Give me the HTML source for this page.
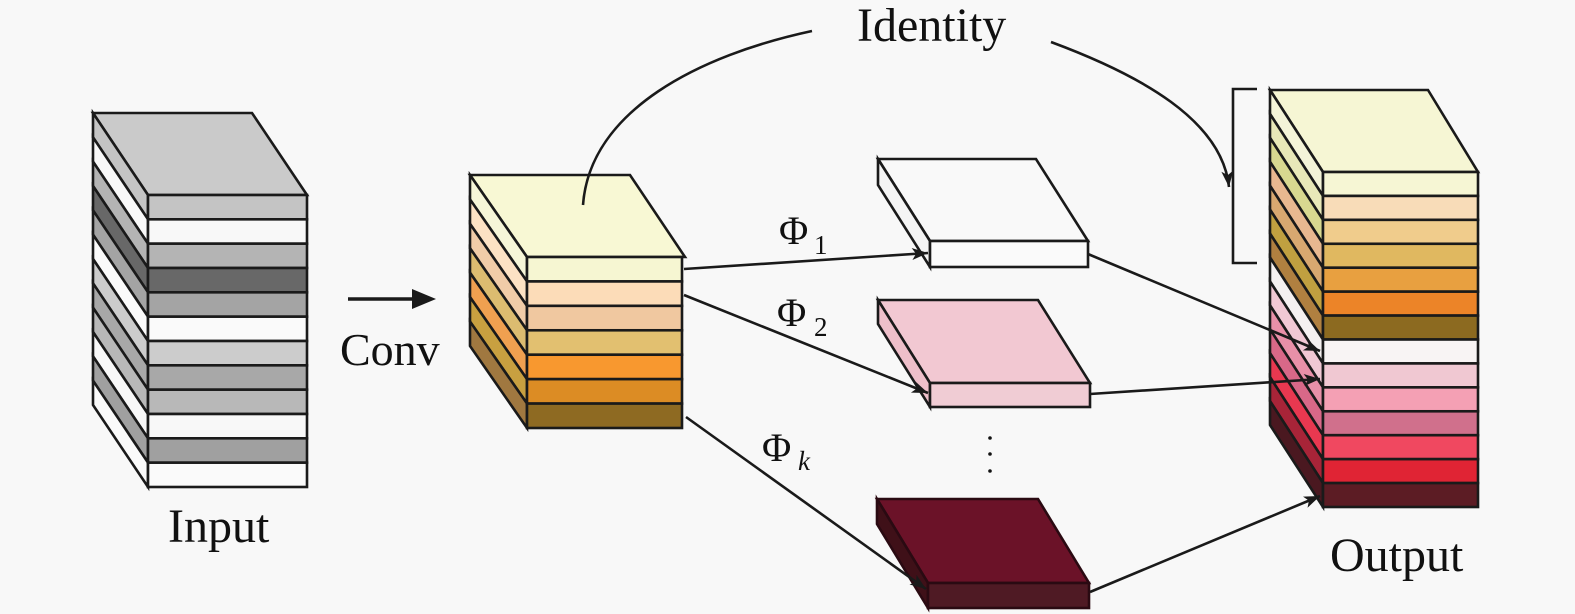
<!DOCTYPE html>
<html><head><meta charset="utf-8">
<style>
html,body{margin:0;padding:0;background:#f8f8f8;}
svg{display:block;}
text{font-family:"Liberation Serif",serif;fill:#111;}
</style></head>
<body>
<svg width="1575" height="614" viewBox="0 0 1575 614" xmlns="http://www.w3.org/2000/svg">
<defs>
<marker id="ah" markerUnits="userSpaceOnUse" markerWidth="18" markerHeight="14" refX="16" refY="6" orient="auto">
<path d="M0,0 L16,6 L0,12 L4,6 z" fill="#1a1a1a"/>
</marker>
</defs>
<rect width="1575" height="614" fill="#f8f8f8"/>

<!-- INPUT STACK -->
<g transform="translate(93,113)" stroke="#1a1a1a" stroke-width="2.6">
 <polygon points="0,0 159,0 214,82 55,82" fill="#cacaca"/>
 <g transform="matrix(1,1.4909,0,1,0,0)">
  <rect x="0" y="0" width="55" height="24.33" fill="#c4c4c4" vector-effect="non-scaling-stroke"/>
  <rect x="0" y="24.33" width="55" height="24.33" fill="#f8f8f8" vector-effect="non-scaling-stroke"/>
  <rect x="0" y="48.67" width="55" height="24.33" fill="#b4b4b4" vector-effect="non-scaling-stroke"/>
  <rect x="0" y="73" width="55" height="24.33" fill="#686868" vector-effect="non-scaling-stroke"/>
  <rect x="0" y="97.33" width="55" height="24.33" fill="#a4a4a4" vector-effect="non-scaling-stroke"/>
  <rect x="0" y="121.67" width="55" height="24.33" fill="#fafafa" vector-effect="non-scaling-stroke"/>
  <rect x="0" y="146" width="55" height="24.33" fill="#cccccc" vector-effect="non-scaling-stroke"/>
  <rect x="0" y="170.33" width="55" height="24.33" fill="#a8a8a8" vector-effect="non-scaling-stroke"/>
  <rect x="0" y="194.67" width="55" height="24.33" fill="#b8b8b8" vector-effect="non-scaling-stroke"/>
  <rect x="0" y="219" width="55" height="24.33" fill="#f8f8f8" vector-effect="non-scaling-stroke"/>
  <rect x="0" y="243.33" width="55" height="24.33" fill="#a0a0a0" vector-effect="non-scaling-stroke"/>
  <rect x="0" y="267.67" width="55" height="24.33" fill="#fafafa" vector-effect="non-scaling-stroke"/>
 </g>
 <g transform="translate(55,82)">
  <rect x="0" y="0" width="159" height="24.33" fill="#c4c4c4"/>
  <rect x="0" y="24.33" width="159" height="24.33" fill="#f8f8f8"/>
  <rect x="0" y="48.67" width="159" height="24.33" fill="#b4b4b4"/>
  <rect x="0" y="73" width="159" height="24.33" fill="#686868"/>
  <rect x="0" y="97.33" width="159" height="24.33" fill="#a4a4a4"/>
  <rect x="0" y="121.67" width="159" height="24.33" fill="#fafafa"/>
  <rect x="0" y="146" width="159" height="24.33" fill="#cccccc"/>
  <rect x="0" y="170.33" width="159" height="24.33" fill="#a8a8a8"/>
  <rect x="0" y="194.67" width="159" height="24.33" fill="#b8b8b8"/>
  <rect x="0" y="219" width="159" height="24.33" fill="#f8f8f8"/>
  <rect x="0" y="243.33" width="159" height="24.33" fill="#a0a0a0"/>
  <rect x="0" y="267.67" width="159" height="24.33" fill="#fafafa"/>
 </g>
</g>

<!-- Conv arrow -->
<line x1="348" y1="299" x2="416" y2="299" stroke="#1a1a1a" stroke-width="3.4"/>
<polygon points="412,289 436,299 412,309" fill="#1a1a1a"/>
<text x="340" y="365" font-size="46">Conv</text>
<text x="168" y="542" font-size="48">Input</text>

<!-- CONV STACK -->
<g transform="translate(470,175)" stroke="#1a1a1a" stroke-width="2.6">
 <polygon points="0,0 160,0 215,82 57,82" fill="#f8f8d4"/>
 <g transform="matrix(1,1.4386,0,1,0,0)">
  <rect x="0" y="0" width="57" height="24.43" fill="#f6f6d8" vector-effect="non-scaling-stroke"/>
  <rect x="0" y="24.43" width="57" height="24.43" fill="#fce2c4" vector-effect="non-scaling-stroke"/>
  <rect x="0" y="48.86" width="57" height="24.43" fill="#f0cca8" vector-effect="non-scaling-stroke"/>
  <rect x="0" y="73.29" width="57" height="24.43" fill="#dcbc70" vector-effect="non-scaling-stroke"/>
  <rect x="0" y="97.71" width="57" height="24.43" fill="#f0a050" vector-effect="non-scaling-stroke"/>
  <rect x="0" y="122.14" width="57" height="24.43" fill="#c8a040" vector-effect="non-scaling-stroke"/>
  <rect x="0" y="146.57" width="57" height="24.43" fill="#a07840" vector-effect="non-scaling-stroke"/>
 </g>
 <g transform="translate(57,82)">
  <rect x="0" y="0" width="155" height="24.43" fill="#f6f6d2"/>
  <rect x="0" y="24.43" width="155" height="24.43" fill="#fcdcb8"/>
  <rect x="0" y="48.86" width="155" height="24.43" fill="#f0c8a0"/>
  <rect x="0" y="73.29" width="155" height="24.43" fill="#e2c070"/>
  <rect x="0" y="97.71" width="155" height="24.43" fill="#f8982f"/>
  <rect x="0" y="122.14" width="155" height="24.43" fill="#dc8c24"/>
  <rect x="0" y="146.57" width="155" height="24.43" fill="#8e6a22"/>
 </g>
</g>

<!-- Identity arcs -->
<path d="M812 31 C700 55, 590 110, 583 205" fill="none" stroke="#1a1a1a" stroke-width="2.6"/>
<path d="M1051 42 C1140 75, 1222 120, 1229 187" fill="none" stroke="#1a1a1a" stroke-width="2.6" marker-end="url(#ah)"/>
<text x="857" y="41" font-size="48">Identity</text>
<!-- bracket -->
<path d="M1257 89 L1233 89 L1233 263 L1257 263" fill="none" stroke="#1a1a1a" stroke-width="2.6"/>

<!-- SLABS -->
<g transform="translate(878,159)" stroke="#1a1a1a" stroke-width="2.6">
 <polygon points="0,0 158,0 210,82 52,82" fill="#f9f9f9"/>
 <polygon points="0,0 52,82 52,108 0,26" fill="#f4f4f4"/>
 <rect x="52" y="82" width="158" height="26" fill="#fafafa"/>
</g>
<g transform="translate(878,300)" stroke="#1a1a1a" stroke-width="2.6">
 <polygon points="0,0 160,0 212,83 52,83" fill="#f2c8d2"/>
 <polygon points="0,0 52,83 52,107 0,24" fill="#eebfca"/>
 <rect x="52" y="83" width="160" height="24" fill="#f0ccd4"/>
</g>
<g transform="translate(877,499)" stroke="#2a0a12" stroke-width="2.6">
 <polygon points="0,0 161,0 212,84 51,84" fill="#6b1228"/>
 <polygon points="0,0 51,84 51,109 0,25" fill="#3f1018"/>
 <rect x="51" y="84" width="161" height="25" fill="#4f1a24"/>
</g>
<circle cx="990" cy="438" r="1.8" fill="#111"/>
<circle cx="990" cy="454" r="1.8" fill="#111"/>
<circle cx="990" cy="471" r="1.8" fill="#111"/>

<!-- Phi arrows -->
<line x1="684" y1="269" x2="928" y2="253" stroke="#1a1a1a" stroke-width="2.6" marker-end="url(#ah)"/>
<line x1="684" y1="295" x2="928" y2="393" stroke="#1a1a1a" stroke-width="2.6" marker-end="url(#ah)"/>
<line x1="686" y1="417" x2="926" y2="589" stroke="#1a1a1a" stroke-width="2.6" marker-end="url(#ah)"/>
<text x="779" y="244" font-size="40">Φ</text><text x="814" y="254" font-size="27">1</text>
<text x="777" y="326" font-size="40">Φ</text><text x="814" y="336" font-size="27">2</text>
<text x="762" y="461" font-size="40">Φ</text><text x="798" y="470" font-size="27" font-style="italic">k</text>

<!-- OUTPUT STACK -->
<g transform="translate(1270,90)" stroke="#1a1a1a" stroke-width="2.6">
 <polygon points="0,0 158,0 208,82 53,82" fill="#f6f6d4"/>
 <g transform="matrix(1,1.547,0,1,0,0)">
  <rect x="0" y="0" width="53" height="23.93" fill="#f4f4d8" vector-effect="non-scaling-stroke"/>
  <rect x="0" y="23.93" width="53" height="23.93" fill="#e8e8b8" vector-effect="non-scaling-stroke"/>
  <rect x="0" y="47.86" width="53" height="23.93" fill="#d8d890" vector-effect="non-scaling-stroke"/>
  <rect x="0" y="71.79" width="53" height="23.93" fill="#e8b890" vector-effect="non-scaling-stroke"/>
  <rect x="0" y="95.71" width="53" height="23.93" fill="#d8a870" vector-effect="non-scaling-stroke"/>
  <rect x="0" y="119.64" width="53" height="23.93" fill="#c0a040" vector-effect="non-scaling-stroke"/>
  <rect x="0" y="143.57" width="53" height="23.93" fill="#b08040" vector-effect="non-scaling-stroke"/>
  <rect x="0" y="167.5" width="53" height="23.93" fill="#f4f0f0" vector-effect="non-scaling-stroke"/>
  <rect x="0" y="191.43" width="53" height="23.93" fill="#f0c8d4" vector-effect="non-scaling-stroke"/>
  <rect x="0" y="215.36" width="53" height="23.93" fill="#e890a8" vector-effect="non-scaling-stroke"/>
  <rect x="0" y="239.29" width="53" height="23.93" fill="#d86888" vector-effect="non-scaling-stroke"/>
  <rect x="0" y="263.21" width="53" height="23.93" fill="#e83850" vector-effect="non-scaling-stroke"/>
  <rect x="0" y="287.14" width="53" height="23.93" fill="#a82438" vector-effect="non-scaling-stroke"/>
  <rect x="0" y="311.07" width="53" height="23.93" fill="#4a1820" vector-effect="non-scaling-stroke"/>
 </g>
 <g transform="translate(53,82)">
  <rect x="0" y="0" width="155" height="23.93" fill="#f6f6d4"/>
  <rect x="0" y="23.93" width="155" height="23.93" fill="#f8dcb8"/>
  <rect x="0" y="47.86" width="155" height="23.93" fill="#f0cc8c"/>
  <rect x="0" y="71.79" width="155" height="23.93" fill="#e0b860"/>
  <rect x="0" y="95.71" width="155" height="23.93" fill="#e8a040"/>
  <rect x="0" y="119.64" width="155" height="23.93" fill="#ec8428"/>
  <rect x="0" y="143.57" width="155" height="23.93" fill="#8c6a20"/>
  <rect x="0" y="167.5" width="155" height="23.93" fill="#f8f4f4"/>
  <rect x="0" y="191.43" width="155" height="23.93" fill="#f0c8d2"/>
  <rect x="0" y="215.36" width="155" height="23.93" fill="#f4a0b4"/>
  <rect x="0" y="239.29" width="155" height="23.93" fill="#d0708c"/>
  <rect x="0" y="263.21" width="155" height="23.93" fill="#f04860"/>
  <rect x="0" y="287.14" width="155" height="23.93" fill="#e02434"/>
  <rect x="0" y="311.07" width="155" height="23.93" fill="#5c1c24"/>
 </g>
</g>

<!-- slab to output arrows -->
<line x1="1088" y1="254" x2="1320" y2="351" stroke="#1a1a1a" stroke-width="2.6" marker-end="url(#ah)"/>
<line x1="1090" y1="394" x2="1320" y2="379" stroke="#1a1a1a" stroke-width="2.6" marker-end="url(#ah)"/>
<line x1="1090" y1="592" x2="1320" y2="496" stroke="#1a1a1a" stroke-width="2.6" marker-end="url(#ah)"/>

<text x="1330" y="571" font-size="48">Output</text>
</svg>
</body></html>
